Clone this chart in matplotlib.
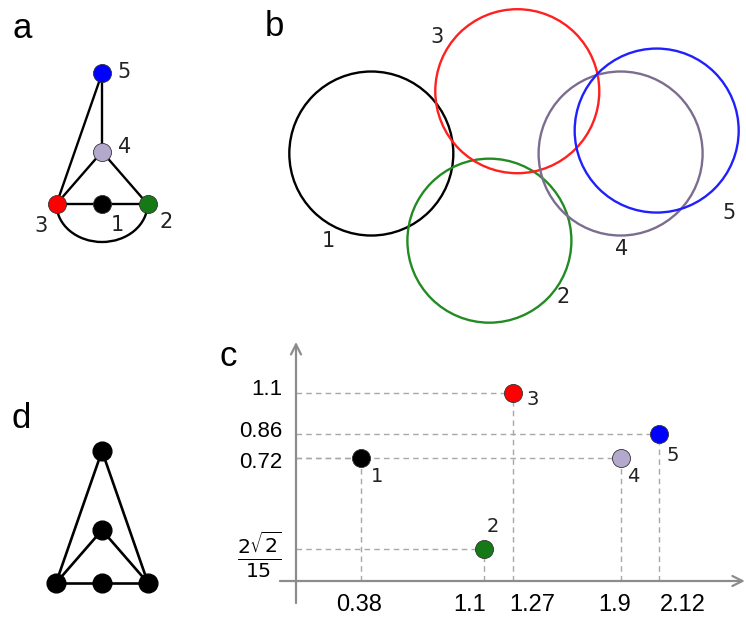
import numpy as np
import matplotlib
matplotlib.use('Agg')
import matplotlib.pyplot as plt
from matplotlib.patches import Circle, Arc

# --- data -------------------------------------------------------------
# five points of the unit disk graph (panels a, b, c)
node_ids = ['1', '2', '3', '4', '5']
node_x = [0.38, 1.1, 1.27, 1.9, 2.12]
node_y = [0.72, 2 * np.sqrt(2) / 15, 1.1, 0.72, 0.86]
disk_radius = 0.5
edges = [(1, 2), (1, 3), (2, 3), (3, 4), (2, 4), (3, 5), (4, 5)]

# tick labels of panel c
x_tick_vals = [0.38, 1.1, 1.27, 1.9, 2.12]
x_tick_labels = ['0.38', '1.1', '1.27', '1.9', '2.12']
y_tick_vals = [1.1, 0.86, 0.72, 2 * np.sqrt(2) / 15]
y_tick_labels = ['1.1', '0.86', '0.72', r'$\frac{2\sqrt{2}}{15}$']

# drawing of the graph in panel a (graph units)
a_layout_x = [0, 1, -1, 0, 0]
a_layout_y = [0, 0, 0, 1.15, 2.87]

# graph of panel d
d_layout_x = [0, 0, -1, 0, 1]
d_layout_y = [2.87, 1.15, 0, 0, 0]
d_edges = [(0, 2), (0, 4), (1, 2), (1, 4), (2, 3), (3, 4)]

# --- styles -----------------------------------------------------------
node_colors = ['black', '#157a15', '#ff0000', '#b5a8cd', '#0000ff']
ring_colors = ['black', '#238b23', '#ff2020', '#7c6d8f', '#2020ff']
axis_grey = '#8c8c8c'
dash_grey = '#a8a8a8'

# label offsets in pixels
a_lab_off = [(15, -21), (19, -18), (-16, -22), (23, 5), (22, 1)]
b_lab_off = [(-43, -87), (74, -56), (-80, 54), (1, -95), (72, -82)]
c_lab_off = [(16, -19), (9, 22), (20, -7), (12, -19), (14, -22)]
xt_off = [-2, -14, 19, -6, 24]
yt_off = [3, 2, -5, -6]

plt.rcParams['font.family'] = ['DejaVu Sans']

W, H = 746, 617
fig = plt.figure(figsize=(W / 100, H / 100), dpi=100)


def place_axes(box, origin, scale):
    # box and origin are given in pixels, y counted from top
    x0, y0, x1, y1 = box
    ox, oy = origin
    ax = fig.add_axes([x0 / W, 1 - y1 / H, (x1 - x0) / W, (y1 - y0) / H])
    ax.set_xlim((x0 - ox) / scale, (x1 - ox) / scale)
    ax.set_ylim((oy - y1) / scale, (oy - y0) / scale)
    ax.axis('off')
    return ax


# panel letters
for letter, (px, py) in zip('abcd', [(22, 28), (274, 27), (228, 357), (21, 418)]):
    fig.text(px / W, 1 - py / H, letter, fontsize=25, family='Liberation Sans',
             ha='center', va='center')

# --- panel a ----------------------------------------------------------
ax_a = place_axes((0, 0, 250, 260), (102, 204), 45.5)
for i, j in edges:
    if (i, j) == (2, 3):
        ax_a.add_patch(Arc((0, 0), 2, 1.67, theta1=180, theta2=360, color='black', lw=1.7, zorder=1))
    else:
        ax_a.plot([a_layout_x[i - 1], a_layout_x[j - 1]], [a_layout_y[i - 1], a_layout_y[j - 1]],
                  color='black', lw=1.7, zorder=1)
for k in range(5):
    ax_a.plot(a_layout_x[k], a_layout_y[k], 'o', ms=13, mfc=node_colors[k], mec='#333333', mew=0.6, zorder=2)
    ax_a.annotate(node_ids[k], (a_layout_x[k], a_layout_y[k]), xytext=a_lab_off[k],
                  textcoords='offset pixels', ha='center', va='center', fontsize=15, color='#222222')

# --- panel b ----------------------------------------------------------
ax_b = place_axes((250, 0, 746, 335), (309, 271.6), 164)
for k in range(5):
    ax_b.add_patch(Circle((node_x[k], node_y[k]), disk_radius, fill=False, ec=ring_colors[k], lw=1.7))
    ax_b.annotate(node_ids[k], (node_x[k], node_y[k]), xytext=b_lab_off[k],
                  textcoords='offset pixels', ha='center', va='center', fontsize=15, color='#222222')

# --- panel c ----------------------------------------------------------
ax_c = place_axes((220, 335, 746, 617), (296, 581), 171)
for k in range(5):
    ax_c.plot([0, node_x[k]], [node_y[k], node_y[k]], color=dash_grey, lw=1, dashes=(4, 3), zorder=1)
    ax_c.plot([node_x[k], node_x[k]], [0, node_y[k]], color=dash_grey, lw=1, dashes=(4, 3), zorder=1)
ax_c.annotate('', xy=(0, 1.398), xytext=(0, -0.129), annotation_clip=False,
              arrowprops=dict(arrowstyle='->', color=axis_grey, lw=1.6, mutation_scale=18, shrinkA=0, shrinkB=0))
ax_c.annotate('', xy=(2.625, 0), xytext=(-0.094, 0), annotation_clip=False,
              arrowprops=dict(arrowstyle='->', color=axis_grey, lw=1.6, mutation_scale=18, shrinkA=0, shrinkB=0))
for k in range(5):
    ax_c.plot(node_x[k], node_y[k], 'o', ms=13, mfc=node_colors[k], mec='#333333', mew=0.6, zorder=3)
    ax_c.annotate(node_ids[k], (node_x[k], node_y[k]), xytext=c_lab_off[k],
                  textcoords='offset pixels', ha='center', va='center', fontsize=14, color='#222222')
for v, lab, dx in zip(x_tick_vals, x_tick_labels, xt_off):
    ax_c.annotate(lab, (v, 0), xytext=(dx, -24), textcoords='offset pixels',
                  ha='center', va='center', fontsize=17, family='Liberation Sans')
for v, lab, dy in zip(y_tick_vals, y_tick_labels, yt_off):
    ax_c.annotate(lab, (0, v), xytext=(-14, dy), textcoords='offset pixels',
                  ha='right', va='center', fontsize=16 if '$' not in lab else 21,
                  family='Liberation Sans')

# --- panel d ----------------------------------------------------------
ax_d = place_axes((0, 400, 220, 617), (102, 583), 46)
for i, j in d_edges:
    ax_d.plot([d_layout_x[i], d_layout_x[j]], [d_layout_y[i], d_layout_y[j]], color='black', lw=1.9, zorder=1)
ax_d.plot(d_layout_x, d_layout_y, 'o', ms=13.5, color='black', zorder=2)

fig.savefig('out.png', dpi=100)
